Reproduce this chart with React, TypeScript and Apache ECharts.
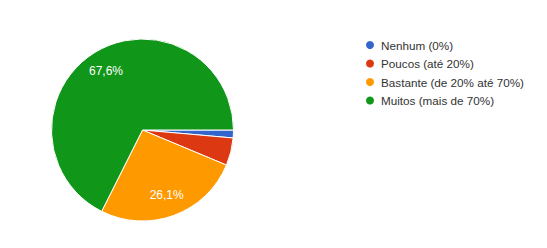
import React, { useEffect, useRef } from "react";
import * as echarts from "echarts";

const categories = [
  "Nenhum (0%)",
  "Poucos (até 20%)",
  "Bastante (de 20% até 70%)",
  "Muitos (mais de 70%)",
];
const shares = [1.4, 4.9, 26.1, 67.6];
const colors = ["#3366cc", "#dc3912", "#ff9900", "#109618"];
// slices smaller than this carry no label
const labelThreshold = 10;

const FONT = "'Liberation Sans', Arial, sans-serif";

export default function App() {
  const ref = useRef<HTMLDivElement>(null);

  useEffect(() => {
    if (!ref.current) return;
    const chart = echarts.init(ref.current, undefined, { renderer: "svg" });
    const data = categories.map((name, i) => ({
      name,
      value: shares[i],
      itemStyle: { color: colors[i] },
    }));
    const fmt = (v: number) => v.toFixed(1).replace(".", ",") + "%";

    chart.setOption({
      animation: false,
      backgroundColor: "#ffffff",
      color: colors,
      legend: {
        orient: "vertical",
        left: 359,
        top: 34,
        icon: "circle",
        itemWidth: 10,
        itemHeight: 10,
        itemGap: 6.5,
        selectedMode: false,
        data: categories,
        textStyle: {
          fontFamily: FONT,
          fontSize: 11.7,
          color: "#333333",
          padding: [0, 0, 0, 1],
        },
      },
      series: [
        {
          type: "pie",
          center: [142.5, 130],
          radius: [0, 91],
          startAngle: 0,
          clockwise: true,
          silent: true,
          label: { show: false },
          labelLine: { show: false },
          itemStyle: { borderColor: "#ffffff", borderWidth: 1 },
          data,
        },
        {
          // label carrier: same slices, transparent, labels placed further out
          type: "pie",
          center: [142.5, 130],
          radius: [42, 91],
          startAngle: 0,
          clockwise: true,
          silent: true,
          itemStyle: { color: "transparent" },
          labelLine: { show: false },
          label: {
            position: "inside",
            color: "#ffffff",
            fontFamily: FONT,
            fontSize: 12,
            formatter: (p: any) =>
              p.value >= labelThreshold ? fmt(p.value) : "",
          },
          data: data.map((d) => ({ name: d.name, value: d.value })),
        },
      ],
    });
    return () => chart.dispose();
  }, []);

  return <div ref={ref} style={{ width: 547, height: 248, margin: -8 }} />;
}
